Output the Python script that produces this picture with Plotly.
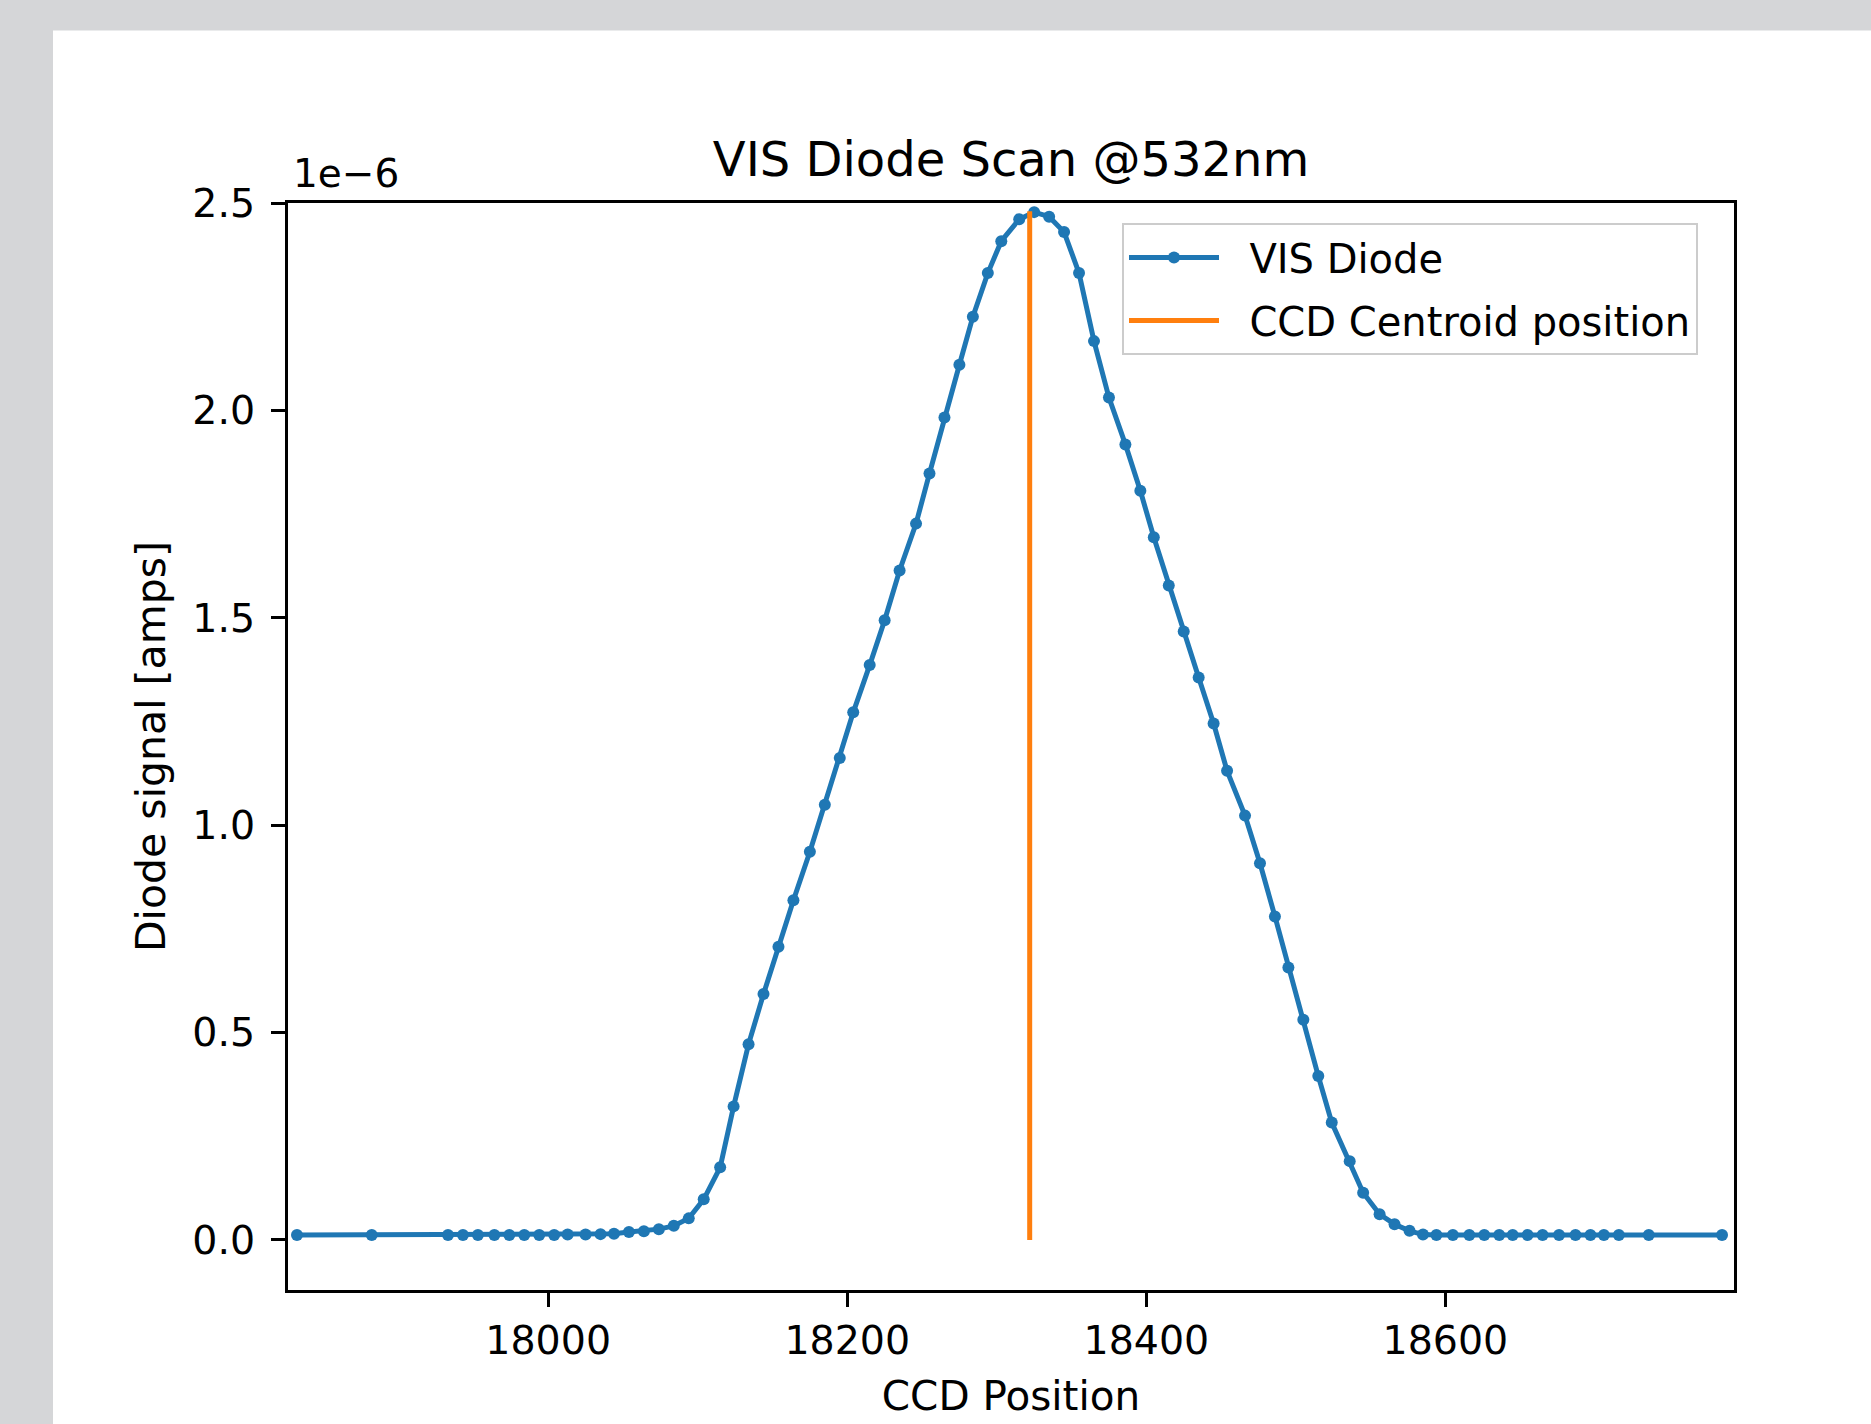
import plotly.graph_objects as go

# CCD position of each scan step
ccd_position = [
    17832, 17882, 17933, 17943, 17953, 17964, 17974, 17984, 17994, 18004,
    18013, 18025, 18035, 18044, 18054, 18064, 18074, 18084, 18094, 18104,
    18115, 18124, 18134, 18144, 18154, 18164, 18175, 18185, 18195, 18204,
    18215, 18225, 18235, 18246, 18255, 18265, 18275, 18284, 18294, 18303,
    18315, 18325, 18335, 18345, 18355, 18365, 18375, 18386, 18396, 18405,
    18415, 18425, 18435, 18445, 18454, 18466, 18476, 18486, 18495, 18505,
    18515, 18524, 18536, 18545, 18556, 18566, 18576, 18585, 18594, 18605,
    18616, 18626, 18636, 18645, 18655, 18665, 18676, 18687, 18697, 18706,
    18716, 18736, 18785,
]

# Diode signal in units of 1e-6 A
diode_signal = [
    0.012, 0.012, 0.012, 0.012, 0.012, 0.012, 0.012, 0.012, 0.012, 0.012,
    0.013, 0.013, 0.014, 0.015, 0.019, 0.021, 0.026, 0.034, 0.052, 0.098,
    0.175, 0.322, 0.472, 0.593, 0.707, 0.819, 0.936, 1.049, 1.162, 1.272,
    1.386, 1.494, 1.614, 1.727, 1.848, 1.983, 2.110, 2.226, 2.331, 2.408,
    2.461, 2.478, 2.467, 2.430, 2.331, 2.167, 2.031, 1.918, 1.806, 1.694,
    1.578, 1.467, 1.356, 1.245, 1.131, 1.023, 0.908, 0.780, 0.657, 0.531,
    0.395, 0.283, 0.190, 0.114, 0.062, 0.038, 0.022, 0.013, 0.012, 0.012,
    0.012, 0.012, 0.012, 0.012, 0.012, 0.012, 0.012, 0.012, 0.012, 0.012,
    0.012, 0.012, 0.012,
]

centroid_x = [18322, 18322]
centroid_y = [0.0, 2.48]

x_ticks = [18000, 18200, 18400, 18600]
y_ticks = [0.0, 0.5, 1.0, 1.5, 2.0, 2.5]

FONT = "DejaVu Sans"
BLUE = "#1f77b4"
ORANGE = "#ff7f0e"
GRAY = "#d5d6d8"
NB = "\u00a0"

fig = go.Figure()
fig.add_trace(go.Scatter(
    x=ccd_position, y=diode_signal, mode="lines+markers", name=NB * 2 + "VIS Diode",
    legendgroup="diode",
    line=dict(color=BLUE, width=5), marker=dict(color=BLUE, size=12),
))
fig.add_trace(go.Scatter(
    x=centroid_x, y=centroid_y, mode="lines", name=NB * 2 + "CCD Centroid position",
    legendgroup="centroid",
    line=dict(color=ORANGE, width=5),
))

W, H = 1871, 1424
L, R, T, B = 288, 137, 203, 131
pw, ph = W - L - R, H - T - B

def px_x(px):
    return (px - L) / pw

def px_y(py):
    return (H - B - py) / ph

fig.update_layout(
    width=W, height=H,
    margin=dict(l=L, r=R, t=T, b=B, pad=0),
    paper_bgcolor=GRAY,
    plot_bgcolor="white",
    font=dict(family=FONT, size=40, color="black"),
    title=dict(text="VIS Diode Scan @532nm", x=0.5, xref="paper",
               y=1 - 159 / H, yref="container", yanchor="middle", xanchor="center",
               font=dict(size=48, family=FONT, color="black")),
    showlegend=True,
    legend=dict(x=px_x(1122), y=px_y(223), xanchor="left", yanchor="top",
                bgcolor="rgba(255,255,255,0.8)", bordercolor="#cccccc", borderwidth=2,
                font=dict(size=40, family=FONT), itemwidth=90,
                traceorder="grouped", tracegroupgap=8),
    shapes=[dict(type="rect", xref="paper", yref="paper",
                 x0=px_x(53), x1=px_x(W + 50), y0=px_y(H + 50), y1=px_y(30),
                 fillcolor="white", line=dict(width=0), layer="below")],
    annotations=[dict(text="1e\u22126", xref="paper", yref="paper",
                      x=px_x(291), y=px_y(173), xanchor="left", yanchor="middle",
                      showarrow=False, font=dict(size=39, family=FONT))],
)

fig.update_xaxes(
    range=[17826, 18793], tickvals=x_ticks, tickformat="d",
    showgrid=False, zeroline=False,
    showline=True, linecolor="black", linewidth=3, mirror=True,
    ticks="outside", ticklen=14, tickwidth=3, tickcolor="black",
    ticklabelstandoff=0, tickfont=dict(size=39.5, family=FONT),
    title=dict(text="CCD Position", standoff=20, font=dict(size=40.5, family=FONT)),
)
fig.update_yaxes(
    range=[-0.1207, 2.5], tickvals=y_ticks, tickformat=".1f",
    showgrid=False, zeroline=False,
    showline=True, linecolor="black", linewidth=3, mirror=True,
    ticks="outside", ticklen=14, tickwidth=3, tickcolor="black",
    ticklabelstandoff=8, tickfont=dict(size=39.5, family=FONT),
    title=dict(text="Diode signal [amps]", standoff=14, font=dict(size=41, family=FONT)),
)

post = (
    "document.body.style.margin='0px';"
    "document.body.style.padding='0px';"
    "document.body.style.background='" + GRAY + "';"
    "document.documentElement.style.overflow='hidden';"
)
fig.write_html("out.html", post_script=post, config={"displayModeBar": False})
